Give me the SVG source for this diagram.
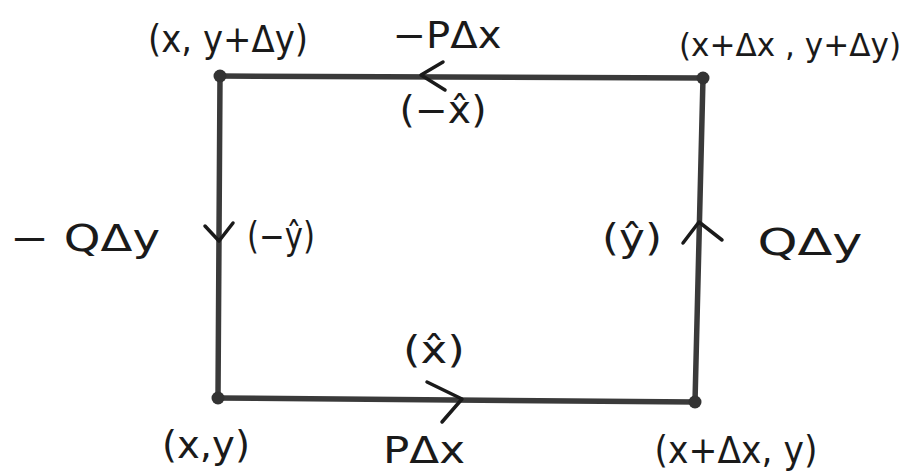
<svg xmlns="http://www.w3.org/2000/svg" width="912" height="476" viewBox="0 0 912 476">
<style>
.t{font-family:"DejaVu Sans","Liberation Sans",sans-serif;font-size:37px;fill:#1a1a1a}
.e{stroke:#3a3a3a;stroke-width:5.5;fill:none;stroke-linecap:round}
.a{stroke:#1a1a1a;stroke-width:3.5;fill:none;stroke-linecap:round;stroke-linejoin:round}
.d{fill:#333}
</style>
<rect width="912" height="476" fill="#fff"/>
<g id="connectors">
<path class="e" d="M703,78 L220,76"/>
<path class="e" d="M220,76 L218,398"/>
<path class="e" d="M218,398 L695,402"/>
<path class="e" d="M695,402 L703,78"/>
<path class="a" d="M443,62 L421,75 L445,90"/>
<path class="a" d="M427,382 L462,399 L442,422"/>
<path class="a" d="M205,226 L219,241 L233,223"/>
<path class="a" d="M683,243 L699,222 L722,240"/>
</g>
<g id="corner-tl"><circle class="d" cx="220" cy="76" r="6.5"/><text class="t" x="228" y="52" text-anchor="middle" textLength="160" lengthAdjust="spacingAndGlyphs">(x, y+Δy)</text></g>
<g id="corner-tr"><circle class="d" cx="703" cy="78" r="6.5"/><text class="t" x="679" y="56" style="font-size:32px" textLength="222" lengthAdjust="spacingAndGlyphs">(x+Δx , y+Δy)</text></g>
<g id="corner-bl"><circle class="d" cx="218" cy="398" r="6.5"/><text class="t" x="206" y="458" text-anchor="middle" textLength="88" lengthAdjust="spacingAndGlyphs">(x,y)</text></g>
<g id="corner-br"><circle class="d" cx="695" cy="402" r="6.5"/><text class="t" x="736" y="463" text-anchor="middle" textLength="163" lengthAdjust="spacingAndGlyphs">(x+Δx, y)</text></g>
<g id="edge-top-labels"><text class="t" x="447" y="48" text-anchor="middle" textLength="109" lengthAdjust="spacingAndGlyphs">−PΔx</text><text class="t" x="443" y="123" text-anchor="middle" textLength="87" lengthAdjust="spacingAndGlyphs">(−x̂)</text></g>
<g id="edge-left-labels"><text class="t" x="85" y="251" text-anchor="middle" textLength="150" lengthAdjust="spacingAndGlyphs">− QΔy</text><text class="t" x="281" y="249" text-anchor="middle" textLength="68" lengthAdjust="spacingAndGlyphs">(−ŷ)</text></g>
<g id="edge-right-labels"><text class="t" x="632" y="251" text-anchor="middle" textLength="60" lengthAdjust="spacingAndGlyphs">(ŷ)</text><text class="t" x="810" y="255" text-anchor="middle" textLength="105" lengthAdjust="spacingAndGlyphs">QΔy</text></g>
<g id="edge-bottom-labels"><text class="t" x="434" y="363" text-anchor="middle" textLength="62" lengthAdjust="spacingAndGlyphs">(x̂)</text><text class="t" x="424" y="463" text-anchor="middle" textLength="82" lengthAdjust="spacingAndGlyphs">PΔx</text></g>
</svg>
